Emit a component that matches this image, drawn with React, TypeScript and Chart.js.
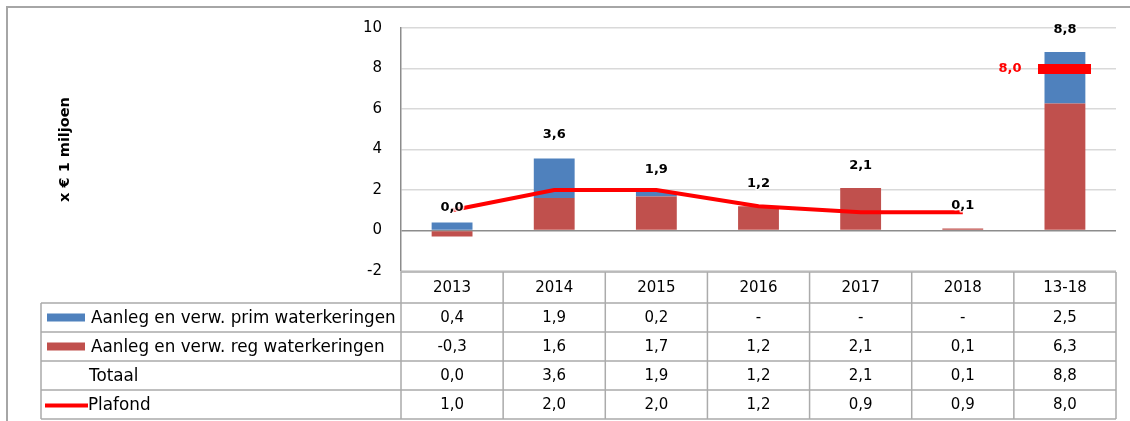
import React, { useEffect, useRef } from 'react';
import { Chart, registerables } from 'chart.js';

Chart.register(...registerables);

const categories = ['2013', '2014', '2015', '2016', '2017', '2018', '13-18'];
const primValues = [0.4, 1.95, 0.22, 0, 0, 0, 2.55];
const regValues = [-0.3, 1.6, 1.68, 1.2, 2.1, 0.1, 6.27];
const totalValues = [0.0, 3.6, 1.9, 1.2, 2.1, 0.1, 8.8];
const plafondValues = [1.0, 2.0, 2.0, 1.2, 0.9, 0.9, null];
const plafondTotal = [null, null, null, null, null, null, 8.0];

const primLabels = ['0,4', '1,9', '0,2', '-', '-', '-', '2,5'];
const regLabels = ['-0,3', '1,6', '1,7', '1,2', '2,1', '0,1', '6,3'];
const totalLabels = ['0,0', '3,6', '1,9', '1,2', '2,1', '0,1', '8,8'];
const plafondLabels = ['1,0', '2,0', '2,0', '1,2', '0,9', '0,9', '8,0'];

const seriesNames = [
  'Aanleg en verw. prim waterkeringen',
  'Aanleg en verw. reg waterkeringen',
  'Totaal',
  'Plafond',
];
const yTicks = [-2, 0, 2, 4, 6, 8, 10];
const yTitle = 'x € 1 miljoen';

const BLUE = '#4F81BD';
const RED = '#C0504D';
const PLAFOND = '#FF0000';
const FONT = '"DejaVu Sans", Verdana, sans-serif';
const DASH_W = 53;
const DASH_H = 10;

const framePlugin = {
  id: 'frameAndTable',
  afterDraw(chart: any) {
    const { ctx, chartArea, scales } = chart;
    const xs = scales.x;
    const n = categories.length;
    const left = chartArea.left;
    const right = chartArea.right;
    const colW = (right - left) / n;
    const top = chartArea.bottom + 1;
    const headerH = 31;
    const rowH = 29;
    const legendLeft = 41;
    const rowsTop = top + headerH;
    const bottom = rowsTop + rowH * 4;

    ctx.save();
    // outer frame
    ctx.strokeStyle = '#A6A6A6';
    ctx.lineWidth = 2;
    ctx.beginPath();
    ctx.moveTo(7, chart.height + 2);
    ctx.lineTo(7, 7);
    ctx.lineTo(chart.width + 2, 7);
    ctx.stroke();

    // table grid
    ctx.strokeStyle = '#ABABAB';
    ctx.lineWidth = 1.5;
    ctx.beginPath();
    ctx.moveTo(left, top);
    ctx.lineTo(right, top);
    for (let r = 0; r <= 4; r++) {
      const y = rowsTop + r * rowH;
      ctx.moveTo(legendLeft, y);
      ctx.lineTo(right, y);
    }
    for (let c = 0; c <= n; c++) {
      const x = left + c * colW;
      ctx.moveTo(x, top);
      ctx.lineTo(x, bottom);
    }
    ctx.moveTo(legendLeft, rowsTop);
    ctx.lineTo(legendLeft, bottom);
    ctx.stroke();

    // header + values
    ctx.fillStyle = '#000';
    ctx.textBaseline = 'middle';
    ctx.textAlign = 'center';
    ctx.font = `15px ${FONT}`;
    categories.forEach((c, i) => {
      ctx.fillText(c, xs.getPixelForValue(i), top + headerH / 2 + 1);
    });
    const rows = [primLabels, regLabels, totalLabels, plafondLabels];
    rows.forEach((row, r) => {
      const yc = rowsTop + r * rowH + rowH / 2 + 1;
      row.forEach((t, i) => {
        ctx.fillText(t, xs.getPixelForValue(i), yc);
      });
    });

    // legend column
    ctx.textAlign = 'left';
    ctx.font = `16.8px ${FONT}`;
    seriesNames.forEach((name, r) => {
      const yc = rowsTop + r * rowH + rowH / 2;
      let tx = 91;
      if (r === 0 || r === 1) {
        ctx.fillStyle = r === 0 ? BLUE : RED;
        ctx.fillRect(47, yc - 4, 38, 8);
      } else if (r === 3) {
        ctx.strokeStyle = PLAFOND;
        ctx.lineWidth = 4;
        ctx.beginPath();
        ctx.moveTo(45, yc + 1);
        ctx.lineTo(88, yc + 1);
        ctx.stroke();
        tx = 88;
      } else {
        tx = 89;
      }
      ctx.fillStyle = '#000';
      ctx.fillText(name, tx, yc + 1);
    });
    ctx.restore();
  },
  afterDatasetsDraw(chart: any) {
    const { ctx, scales } = chart;
    const ys = scales.y;
    const xs = scales.x;
    ctx.save();
    ctx.font = `bold 13px ${FONT}`;
    ctx.textAlign = 'center';
    ctx.textBaseline = 'middle';
    ctx.lineJoin = 'round';
    totalValues.forEach((v, i) => {
      const x = xs.getPixelForValue(i);
      const y = ys.getPixelForValue(v) - 22.5;
      ctx.strokeStyle = 'rgba(255,255,255,0.8)';
      ctx.lineWidth = 3;
      ctx.strokeText(totalLabels[i], x, y);
      ctx.fillStyle = '#000';
      ctx.fillText(totalLabels[i], x, y);
    });
    const meta = chart.getDatasetMeta(3);
    plafondTotal.forEach((v, i) => {
      if (v === null) return;
      const pt = meta.data[i];
      ctx.textAlign = 'right';
      ctx.fillStyle = PLAFOND;
      ctx.fillText(plafondLabels[i], pt.x - DASH_W / 2 - 17, pt.y);
    });
    ctx.restore();
  },
};

export default function App() {
  const ref = useRef<HTMLCanvasElement | null>(null);
  useEffect(() => {
    if (!ref.current) return;
    const dash = document.createElement('canvas');
    dash.width = DASH_W;
    dash.height = DASH_H;
    const dctx = dash.getContext('2d');
    if (dctx) {
      dctx.fillStyle = PLAFOND;
      dctx.fillRect(0, 0, DASH_W, DASH_H);
    }
    const chart = new Chart(ref.current, {
      type: 'bar',
      data: {
        labels: categories,
        datasets: [
          {
            type: 'line',
            label: seriesNames[3],
            data: plafondValues as any,
            borderColor: PLAFOND,
            borderWidth: 4,
            pointRadius: 0,
            tension: 0,
            spanGaps: false,
            stack: 'plafond',
            order: 0,
          } as any,
          {
            type: 'bar',
            label: seriesNames[1],
            data: regValues,
            backgroundColor: RED,
            stack: 'bars',
            order: 2,
          },
          {
            type: 'bar',
            label: seriesNames[0],
            data: primValues,
            backgroundColor: BLUE,
            stack: 'bars',
            order: 2,
          },
          {
            type: 'line',
            label: 'Plafond 13-18',
            data: plafondTotal as any,
            showLine: false,
            pointStyle: dash,
            pointRadius: 1,
            pointBorderWidth: 0,
            stack: 'plafondTotal',
            order: 0,
          } as any,
          {
            type: 'line',
            label: seriesNames[2],
            data: totalValues,
            showLine: false,
            pointRadius: 0,
            stack: 'totaal',
            order: 1,
          } as any,
        ],
      },
      options: {
        animation: false,
        responsive: true,
        maintainAspectRatio: false,
        layout: { padding: { left: 0, right: 14, top: 28, bottom: 150 } },
        plugins: {
          legend: { display: false },
          tooltip: { enabled: false },
        },
        datasets: {
          bar: { barPercentage: 0.8, categoryPercentage: 0.5 },
        },
        scales: {
          x: {
            display: false,
            stacked: true,
          },
          y: {
            stacked: true,
            min: -2,
            max: 10,
            afterBuildTicks: (scale: any) => {
              scale.ticks = yTicks.map((v) => ({ value: v }));
            },
            afterFit: (scale: any) => {
              scale.width = 401;
            },
            border: { display: true, color: '#8C8C8C', width: 1.5 },
            grid: {
              drawTicks: false,
              color: (c: any) => (c.tick && c.tick.value === 0 ? '#8C8C8C' : '#D9D9D9'),
              lineWidth: 1.5,
            },
            ticks: {
              padding: 19,
              color: '#000',
              font: { family: FONT, size: 15 },
              callback: (v: any) => String(v),
            },
            title: {
              display: true,
              text: yTitle,
              color: '#000',
              font: { family: FONT, size: 14.5, weight: 'bold' },
              padding: { top: 57, bottom: 0 },
            },
          },
        },
      },
      plugins: [framePlugin],
    });
    return () => chart.destroy();
  }, []);
  return (
    <div style={{ position: 'fixed', left: 0, top: 0, width: 1130, height: 421, background: '#fff' }}>
      <canvas ref={ref} />
    </div>
  );
}
